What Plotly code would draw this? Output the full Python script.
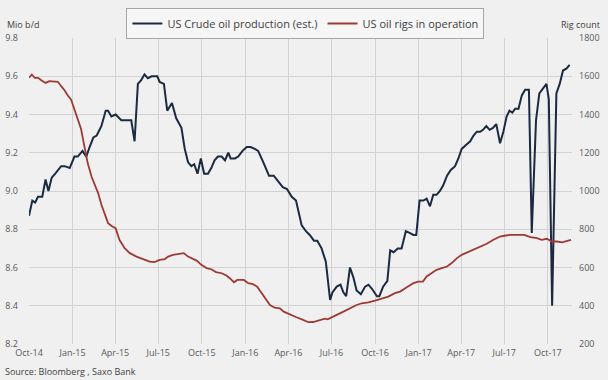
import plotly.graph_objects as go

# US crude oil production (mio b/d), weekly estimates
prod_dates = [
    "2014-10-01", "2014-10-08", "2014-10-14", "2014-10-20", "2014-10-29", "2014-11-05", "2014-11-11",
    "2014-11-18", "2014-11-25", "2014-12-08", "2014-12-15", "2014-12-26", "2015-01-05", "2015-01-12",
    "2015-01-22", "2015-01-30", "2015-02-06", "2015-02-14", "2015-02-21", "2015-03-03", "2015-03-12",
    "2015-03-17", "2015-03-24", "2015-04-02", "2015-04-14", "2015-04-25", "2015-05-05", "2015-05-12",
    "2015-05-19", "2015-05-26", "2015-06-02", "2015-06-09", "2015-06-17", "2015-06-22", "2015-06-29",
    "2015-07-04", "2015-07-13", "2015-07-20", "2015-07-30", "2015-08-08", "2015-08-14", "2015-08-19",
    "2015-08-26", "2015-09-02", "2015-09-09", "2015-09-15", "2015-09-22", "2015-09-29", "2015-10-06",
    "2015-10-14", "2015-10-21", "2015-10-28", "2015-11-04", "2015-11-12", "2015-11-19", "2015-11-26",
    "2015-12-01", "2015-12-10", "2015-12-17", "2015-12-26", "2016-01-04", "2016-01-12", "2016-01-21",
    "2016-01-28", "2016-02-08", "2016-02-20", "2016-03-01", "2016-03-10", "2016-03-20", "2016-03-29",
    "2016-04-08", "2016-04-17", "2016-04-22", "2016-04-29", "2016-05-08", "2016-05-16", "2016-05-25",
    "2016-06-01", "2016-06-10", "2016-06-19", "2016-06-28", "2016-07-03", "2016-07-12", "2016-07-20",
    "2016-07-26", "2016-08-01", "2016-08-09", "2016-08-16", "2016-08-23", "2016-09-01", "2016-09-10",
    "2016-09-17", "2016-09-24", "2016-10-05", "2016-10-10", "2016-10-18", "2016-10-27", "2016-11-02",
    "2016-11-09", "2016-11-18", "2016-11-26", "2016-12-05", "2016-12-14", "2016-12-21", "2016-12-27",
    "2017-01-03", "2017-01-11", "2017-01-18", "2017-01-25", "2017-02-01", "2017-02-08", "2017-02-15",
    "2017-02-22", "2017-03-02", "2017-03-10", "2017-03-19", "2017-03-26", "2017-04-02", "2017-04-11",
    "2017-04-20", "2017-04-27", "2017-05-04", "2017-05-11", "2017-05-17", "2017-05-24", "2017-05-31",
    "2017-06-07", "2017-06-14", "2017-06-22", "2017-06-29", "2017-07-06", "2017-07-12", "2017-07-18",
    "2017-07-24", "2017-07-31", "2017-08-07", "2017-08-14", "2017-08-22", "2017-08-28", "2017-09-06",
    "2017-09-13", "2017-09-21", "2017-09-28", "2017-10-03", "2017-10-10", "2017-10-19", "2017-10-26",
    "2017-11-02", "2017-11-09", "2017-11-16",
]
prod_values = [
    8.87, 8.95, 8.94, 8.97, 8.97, 9.06, 9.00,
    9.07, 9.09, 9.13, 9.13, 9.12, 9.18, 9.18,
    9.21, 9.18, 9.23, 9.28, 9.29, 9.34, 9.42,
    9.42, 9.39, 9.40, 9.37, 9.37, 9.37, 9.26,
    9.56, 9.58, 9.61, 9.59, 9.60, 9.60, 9.60,
    9.57, 9.56, 9.42, 9.46, 9.38, 9.35, 9.33,
    9.22, 9.15, 9.13, 9.14, 9.09, 9.17, 9.09,
    9.09, 9.12, 9.16, 9.18, 9.18, 9.16, 9.20,
    9.17, 9.17, 9.18, 9.21, 9.23, 9.23, 9.22,
    9.21, 9.15, 9.08, 9.08, 9.05, 9.02, 9.01,
    8.97, 8.95, 8.89, 8.82, 8.79, 8.77, 8.74,
    8.74, 8.70, 8.63, 8.43, 8.47, 8.50, 8.51,
    8.47, 8.45, 8.60, 8.55, 8.48, 8.46, 8.50,
    8.51, 8.49, 8.45, 8.45, 8.50, 8.53, 8.69,
    8.68, 8.70, 8.70, 8.79, 8.78, 8.77, 8.77,
    8.95, 8.95, 8.96, 8.92, 8.98, 8.98, 9.00,
    9.03, 9.08, 9.11, 9.13, 9.17, 9.22, 9.24,
    9.26, 9.29, 9.31, 9.31, 9.32, 9.34, 9.32,
    9.33, 9.35, 9.25, 9.31, 9.39, 9.42, 9.41,
    9.43, 9.43, 9.50, 9.53, 9.53, 8.78, 9.37,
    9.51, 9.54, 9.56, 9.48, 8.40, 9.51, 9.56,
    9.63, 9.64, 9.66,
]

# US oil rigs in operation (rig count)
rig_dates = [
    "2014-10-01", "2014-10-07", "2014-10-13", "2014-10-20", "2014-10-27", "2014-11-05", "2014-11-13",
    "2014-12-01", "2014-12-08", "2014-12-15", "2014-12-22", "2014-12-29", "2015-01-05", "2015-01-12",
    "2015-01-19", "2015-01-26", "2015-02-02", "2015-02-10", "2015-02-17", "2015-02-24", "2015-03-03",
    "2015-03-10", "2015-03-17", "2015-03-26", "2015-04-02", "2015-04-10", "2015-04-21", "2015-05-02",
    "2015-05-16", "2015-05-30", "2015-06-13", "2015-06-23", "2015-07-04", "2015-07-15", "2015-07-22",
    "2015-08-01", "2015-08-12", "2015-08-24", "2015-09-02", "2015-09-12", "2015-09-21", "2015-09-30",
    "2015-10-11", "2015-10-21", "2015-10-31", "2015-11-12", "2015-11-22", "2015-11-29", "2015-12-08",
    "2015-12-15", "2015-12-29", "2016-01-07", "2016-01-17", "2016-01-26", "2016-02-04", "2016-02-13",
    "2016-02-22", "2016-03-03", "2016-03-14", "2016-03-22", "2016-04-04", "2016-04-18", "2016-05-02",
    "2016-05-13", "2016-05-23", "2016-06-01", "2016-06-10", "2016-06-17", "2016-06-23", "2016-07-01",
    "2016-07-12", "2016-07-22", "2016-08-02", "2016-08-13", "2016-08-23", "2016-09-03", "2016-09-17",
    "2016-10-01", "2016-10-15", "2016-10-29", "2016-11-12", "2016-11-23", "2016-12-07", "2016-12-21",
    "2016-12-31", "2017-01-10", "2017-01-18", "2017-01-29", "2017-02-08", "2017-02-19", "2017-03-02",
    "2017-03-12", "2017-03-23", "2017-04-02", "2017-04-13", "2017-04-27", "2017-05-11", "2017-05-25",
    "2017-06-08", "2017-06-22", "2017-07-01", "2017-07-13", "2017-08-04", "2017-08-12", "2017-08-25",
    "2017-09-08", "2017-09-18", "2017-09-29", "2017-10-09", "2017-10-20", "2017-10-31", "2017-11-10",
    "2017-11-19",
]
rig_values = [
    1592, 1609, 1592, 1592, 1579, 1565, 1574,
    1571, 1548, 1527, 1499, 1478, 1426, 1377,
    1324, 1233, 1146, 1076, 1033, 989, 928,
    876, 832, 814, 806, 745, 701, 675,
    657, 644, 631, 628, 640, 644, 657,
    666, 671, 675, 657, 644, 635, 614,
    597, 591, 576, 570, 558, 544, 523,
    535, 535, 518, 513, 500, 466, 431,
    404, 390, 387, 369, 357, 340, 326,
    314, 315, 322, 326, 333, 329, 340,
    352, 364, 378, 395, 404, 413, 418,
    427, 439, 448, 466, 474, 497, 518,
    526, 526, 553, 573, 588, 597, 605,
    623, 649, 666, 678, 692, 707, 724,
    745, 762, 766, 771, 771, 771, 759,
    754, 745, 750, 736, 736, 731, 740,
    745,
]

left_ticks = [8.2, 8.4, 8.6, 8.8, 9.0, 9.2, 9.4, 9.6, 9.8]
right_ticks = [200, 400, 600, 800, 1000, 1200, 1400, 1600, 1800]

BG = "#f0f0f0"
GRID = "#d3d3d3"
TXT = "#595959"
FONT = "Open Sans"

ML, MR, MT, MB = 29, 36, 38, 36
W, H = 608, 380
plot_w = W - ML - MR
plot_h = H - MT - MB

fig = go.Figure()
fig.add_trace(go.Scatter(
    x=prod_dates, y=prod_values, mode="lines",
    name="US Crude oil production (est.)",
    line=dict(color="#1b2a40", width=2),
    yaxis="y",
))
fig.add_trace(go.Scatter(
    x=rig_dates, y=rig_values, mode="lines",
    name="US oil rigs in operation",
    line=dict(color="#9e3a35", width=1.8),
    yaxis="y2",
))

fig.update_layout(
    width=W, height=H,
    paper_bgcolor=BG, plot_bgcolor=BG,
    margin=dict(l=ML, r=MR, t=MT, b=MB, autoexpand=False),
    font=dict(family=FONT, size=9, color=TXT),
    showlegend=True,
    legend=dict(
        orientation="h", x=0.509, xanchor="center", y=(H - MB - 8) / plot_h, yanchor="top",
        bgcolor="#f6f6f6", bordercolor="#a6a6a6", borderwidth=1,
        font=dict(family=FONT, size=11, color="#404040"),
        itemwidth=30, tracegroupgap=0,
    ),
    xaxis=dict(
        type="date",
        range=["2014-10-01", "2017-11-21"],
        tick0="2014-10-01", dtick="M3", tickformat="%b-%y",
        showgrid=True, gridcolor=GRID, gridwidth=1,
        zeroline=False, showline=False, ticks="", automargin=False,
        ticklabelstandoff=2,
        tickfont=dict(size=9, color=TXT),
    ),
    yaxis=dict(
        range=[8.2, 9.8], tickvals=left_ticks, tickformat=".1f",
        showgrid=True, gridcolor=GRID, gridwidth=1,
        zeroline=False, showline=False, ticks="", automargin=False,
        ticklabelstandoff=10,
        tickfont=dict(size=9, color=TXT),
    ),
    yaxis2=dict(
        range=[200, 1800], tickvals=right_ticks, overlaying="y", side="right",
        showgrid=False, zeroline=False, showline=False, ticks="", automargin=False,
        ticklabelstandoff=6,
        tickfont=dict(size=9, color=TXT),
    ),
    annotations=[
        dict(text="Mio b/d", x=(5 - ML) / plot_w, y=(H - MB - 25) / plot_h,
             xref="paper", yref="paper", showarrow=False,
             xanchor="left", yanchor="middle", font=dict(size=9, color="#404040")),
        dict(text="Rig count", x=(602 - ML) / plot_w, y=(H - MB - 25) / plot_h,
             xref="paper", yref="paper", showarrow=False,
             xanchor="right", yanchor="middle", font=dict(size=9, color="#404040")),
        dict(text="Source: Bloomberg , Saxo Bank", x=(3 - ML) / plot_w, y=(H - MB - 371) / plot_h,
             xref="paper", yref="paper", showarrow=False,
             xanchor="left", yanchor="middle", font=dict(size=9, color="#404040")),
    ],
)

fig.write_html(
    "out.html",
    config={"displayModeBar": False},
    post_script="document.body.style.margin='0';document.body.style.padding='0';",
)
